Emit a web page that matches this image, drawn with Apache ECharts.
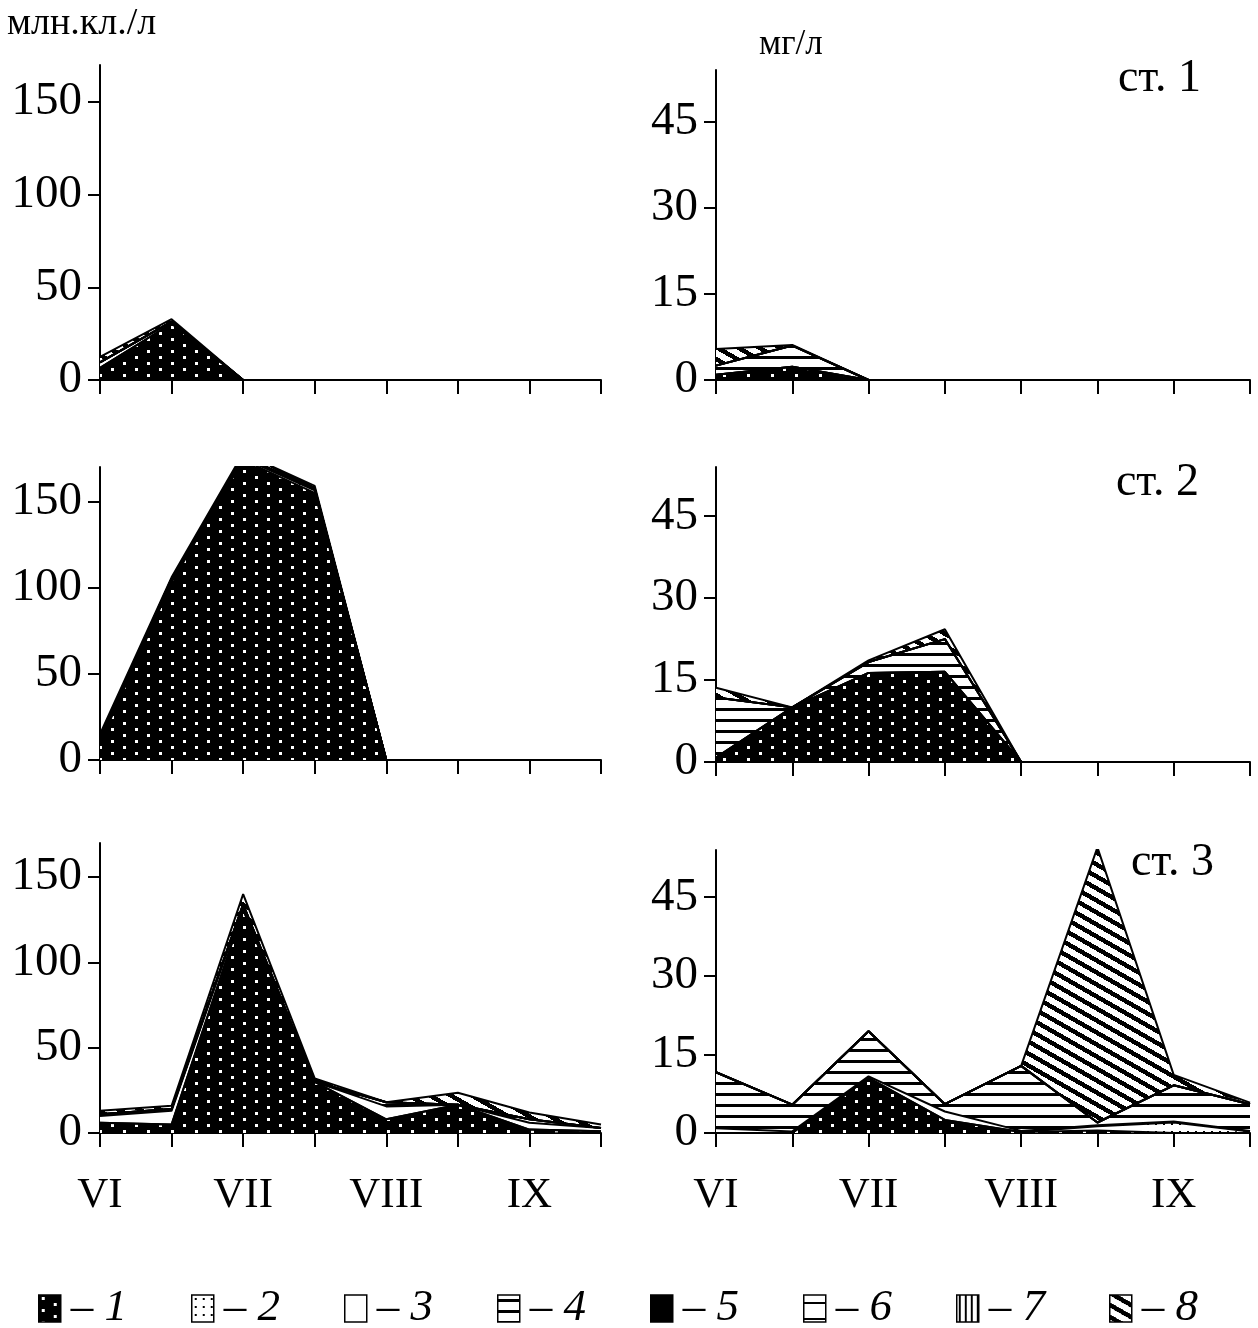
<!DOCTYPE html>
<html>
<head>
<meta charset="utf-8">
<script src="https://cdn.jsdelivr.net/npm/echarts@6/dist/echarts.min.js"></script>
<style>
html, body { margin: 0; padding: 0; background: #fff; }
#chart { width: 1258px; height: 1328px; }
</style>
</head>
<body>
<div id="chart"></div>
<script>
// half-month sampling, VI .. IX
var months = ['VI', '', 'VII', '', 'VIII', '', 'IX', ''];
var groupNames = ['1', '2', '3', '4', '5', '6', '7', '8'];
var numTicks = [0, 50, 100, 150];
var bioTicks = [0, 15, 30, 45];
var zero = [0, 0, 0, 0, 0, 0, 0, 0];

// ст. 1, численность (млн.кл./л)
var st1Num1 = [6.5, 30.5, 0, 0, 0, 0, 0, 0];
var st1Num3 = [3, 1, 0, 0, 0, 0, 0, 0];
var st1Num8 = [3, 1.3, 0, 0, 0, 0, 0, 0];
// ст. 1, биомасса (мг/л)
var st1Bio1 = [0.9, 2.3, 0, 0, 0, 0, 0, 0];
var st1Bio4 = [1.6, 3.7, 0, 0, 0, 0, 0, 0];
var st1Bio8 = [2.9, 0.1, 0, 0, 0, 0, 0, 0];

// ст. 2
var st2Num1 = [10, 103, 174, 155, 0, 0, 0, 0];
var st2Num2 = [1.5, 1, 1, 1.5, 0, 0, 0, 0];
var st2Num3 = [1.5, 1, 1, 1, 0, 0, 0, 0];
var st2Num8 = [2, 1, 2, 1.5, 0, 0, 0, 0];
var st2Bio1 = [0.8, 10, 16.3, 16.5, 0, 0, 0, 0];
var st2Bio4 = [11, 0, 2, 6, 0, 0, 0, 0];
var st2Bio8 = [1.8, 0, 0.3, 1.8, 0, 0, 0, 0];

// ст. 3
var st3Num1 = [6, 5, 131, 30, 8, 16.6, 2, 1];
var st3Num3 = [4, 8, 2, 0, 7.6, 0, 4, 2];
var st3Num4 = [1, 1, 1, 0, 2.4, 0, 2, 0];
var st3Num8 = [2, 2, 6, 2, 0, 7, 4, 2];
var st3Bio1 = [0, 0, 10.5, 2.5, 0.2, 0.5, 0, 0];
var st3Bio2 = [0, 0, 0, 0, 0, 0.8, 2, 0.3];
var st3Bio3 = [0.9, 0.3, 0.3, 1.6, 0.2, 0.2, 0.2, 0.1];
var st3Bio4 = [10.7, 5.1, 8.6, 1.4, 12.4, 0.5, 6.9, 5.1];
var st3Bio8 = [0, 0, 0, 0, 0, 52.5, 2, 0.3];

var panels = [
    [st1Num1, zero, st1Num3, zero, zero, zero, zero, st1Num8],
    [st1Bio1, zero, zero, st1Bio4, zero, zero, zero, st1Bio8],
    [st2Num1, st2Num2, st2Num3, zero, zero, zero, zero, st2Num8],
    [st2Bio1, zero, zero, st2Bio4, zero, zero, zero, st2Bio8],
    [st3Num1, zero, st3Num3, st3Num4, zero, zero, zero, st3Num8],
    [st3Bio1, st3Bio2, st3Bio3, st3Bio4, zero, zero, zero, st3Bio8]
];

var font = "'Liberation Serif', 'Times New Roman', serif";

function makePattern(w, h, bg, fg, draw) {
    var c = document.createElement('canvas');
    c.width = w;
    c.height = h;
    var ctx = c.getContext('2d');
    ctx.fillStyle = bg;
    ctx.fillRect(0, 0, w, h);
    ctx.fillStyle = fg;
    draw(ctx, w, h);
    return { image: c, repeat: 'repeat' };
}

var patterns = [
    makePattern(24, 12, '#000', '#fff', function (ctx) {
        ctx.fillRect(3, 2, 3, 3);
        ctx.fillRect(15, 8, 3, 3);
    }),
    makePattern(8, 8, '#fff', '#000', function (ctx) {
        ctx.fillRect(3, 3, 2, 2);
    }),
    '#fff',
    makePattern(4, 11, '#fff', '#000', function (ctx) {
        ctx.fillRect(0, 4, 4, 3);
    }),
    '#000',
    makePattern(4, 16, '#fff', '#000', function (ctx) {
        ctx.fillRect(0, 7, 4, 2);
    }),
    makePattern(6, 4, '#fff', '#000', function (ctx) {
        ctx.fillRect(2, 0, 2, 4);
    }),
    makePattern(21, 12, '#fff', '#000', function (ctx, w, h) {
        for (var y = 0; y < h; y++) {
            var x0 = Math.round(y * w / h);
            ctx.fillRect(x0, y, 9, 1);
            if (x0 + 9 > w) ctx.fillRect(x0 - w, y, 9, 1);
        }
    })
];

// grid boxes: [left, top, width, height]
var boxes = [
    [100, 65, 501, 315],
    [716, 70, 534, 310],
    [100, 467, 501, 293],
    [716, 467, 534, 295],
    [100, 843, 501, 290],
    [716, 850, 534, 283]
];

var grids = [], xAxes = [], yAxes = [], series = [];

boxes.forEach(function (b, p) {
    var isLeft = p % 2 === 0;
    var isBottom = p >= 4;
    grids.push({ left: b[0], top: b[1], width: b[2], height: b[3] });
    xAxes.push({
        type: 'category',
        gridIndex: p,
        data: months,
        boundaryGap: false,
        axisLine: { lineStyle: { color: '#000', width: 2 } },
        axisTick: { show: true, interval: 0, length: 14, lineStyle: { color: '#000', width: 2 } },
        axisLabel: { show: isBottom, interval: 0, margin: 41, fontSize: 43, fontFamily: font, color: '#000' }
    });
    yAxes.push({
        type: 'value',
        gridIndex: p,
        min: 0,
        max: isLeft ? 170 : 54,
        interval: isLeft ? 50 : 15,
        axisLine: { show: true, lineStyle: { color: '#000', width: 2 } },
        axisTick: { show: true, length: 12, customValues: isLeft ? numTicks : bioTicks, lineStyle: { color: '#000', width: 2 } },
        axisLabel: { customValues: isLeft ? numTicks : bioTicks, margin: 18, fontSize: 47, fontFamily: font, color: '#000' },
        splitLine: { show: false }
    });
    panels[p].forEach(function (layer, k) {
        series.push({
            name: groupNames[k],
            type: 'line',
            xAxisIndex: p,
            yAxisIndex: p,
            stack: 'p' + p,
            data: layer,
            symbol: 'none',
            itemStyle: { color: '#000' },
            lineStyle: { color: '#000', width: 2 },
            areaStyle: { color: patterns[k], opacity: 1 }
        });
    });
});

var titleStyle = function (size) {
    return { fontSize: size, fontWeight: 'normal', fontFamily: font, color: '#000' };
};

var chart = echarts.init(document.getElementById('chart'));
chart.setOption({
    animation: false,
    backgroundColor: '#fff',
    title: [
        { text: 'млн.кл./л', left: 7, top: 5, padding: 0, textStyle: titleStyle(38) },
        { text: 'мг/л', left: 759, top: 27, padding: 0, textStyle: titleStyle(35) },
        { text: 'ст. 1', right: 57, top: 56, padding: 0, textStyle: titleStyle(46) },
        { text: 'ст. 2', right: 59, top: 460, padding: 0, textStyle: titleStyle(46) },
        { text: 'ст. 3', right: 44, top: 840, padding: 0, textStyle: titleStyle(46) }
    ],
    legend: {
        left: 38,
        top: 1286,
        padding: 0,
        icon: 'rect',
        itemWidth: 22,
        itemHeight: 27,
        itemGap: 64,
        selectedMode: false,
        data: groupNames.map(function (n, k) {
            return { name: n, itemStyle: { color: patterns[k], borderColor: '#000', borderWidth: 1.5 } };
        }),
        formatter: function (n) { return '{d|– }{n|' + n + '}'; },
        textStyle: {
            rich: {
                d: { fontSize: 45, fontFamily: font, color: '#000', padding: [0, 0, 0, 5] },
                n: { fontSize: 45, fontFamily: font, fontStyle: 'italic', color: '#000' }
            }
        }
    },
    grid: grids,
    xAxis: xAxes,
    yAxis: yAxes,
    series: series
});
</script>
</body>
</html>
